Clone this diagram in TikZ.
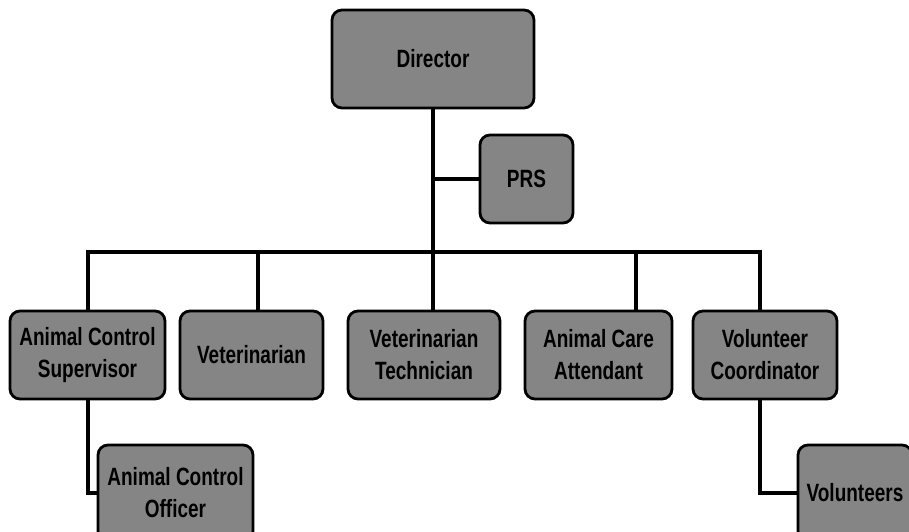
\documentclass[tikz,border=0pt]{standalone}
\usepackage{fontspec}
\newfontfamily\orgfont{Liberation Sans}[FakeStretch=0.76]
\begin{document}
\begin{tikzpicture}[x=1pt,y=-1pt,
  box/.style={draw=black, line width=2.8pt, rounded corners=10pt, fill=black!48,
    inner sep=0pt, align=center, font=\orgfont\bfseries\fontsize{25}{32}\selectfont},
  conn/.style={draw=black, line width=4pt}]
\useasboundingbox (0,0) rectangle (909,532);
\node[box, minimum width=202, minimum height=98] (dir) at (433,59) {Director};
\node[box, minimum width=93, minimum height=88] (prs) at (526.5,179) {PRS};
\node[box, minimum width=155, minimum height=88] (sup) at (87.5,355) {Animal Control\\Supervisor};
\node[box, minimum width=143, minimum height=88] (vet) at (251.5,355) {Veterinarian};
\node[box, minimum width=152, minimum height=88] (vt) at (424,355) {Veterinarian\\Technician};
\node[box, minimum width=147, minimum height=88] (care) at (598.5,355) {Animal Care\\Attendant};
\node[box, minimum width=144, minimum height=88] (vol) at (765,355) {Volunteer\\Coordinator};
\node[box, minimum width=155, minimum height=96] (off) at (175.5,493) {Animal Control\\Officer};
\node[box, minimum width=114, minimum height=96] (vols) at (855,493) {Volunteers};
\coordinate (bL) at (88,252);
\coordinate (bV) at (258,252);
\coordinate (bM) at (433,252);
\coordinate (bC) at (636,252);
\coordinate (bR) at (760,252);
\draw[conn] (sup.north -| bL) -- (bL) -- (bR) -- (bR |- vol.north);
\draw[conn] (bM |- dir.south) -- (bM |- vt.north);
\draw[conn] (bM |- prs.west) -- (prs.west);
\draw[conn] (bV) -- (bV |- vet.north);
\draw[conn] (bC) -- (bC |- care.north);
\draw[conn] (sup.south -| bL) -- (bL |- off.west) -- (off.west);
\draw[conn] (vol.south -| bR) -- (bR |- vols.west) -- (vols.west);
\end{tikzpicture}
\end{document}
